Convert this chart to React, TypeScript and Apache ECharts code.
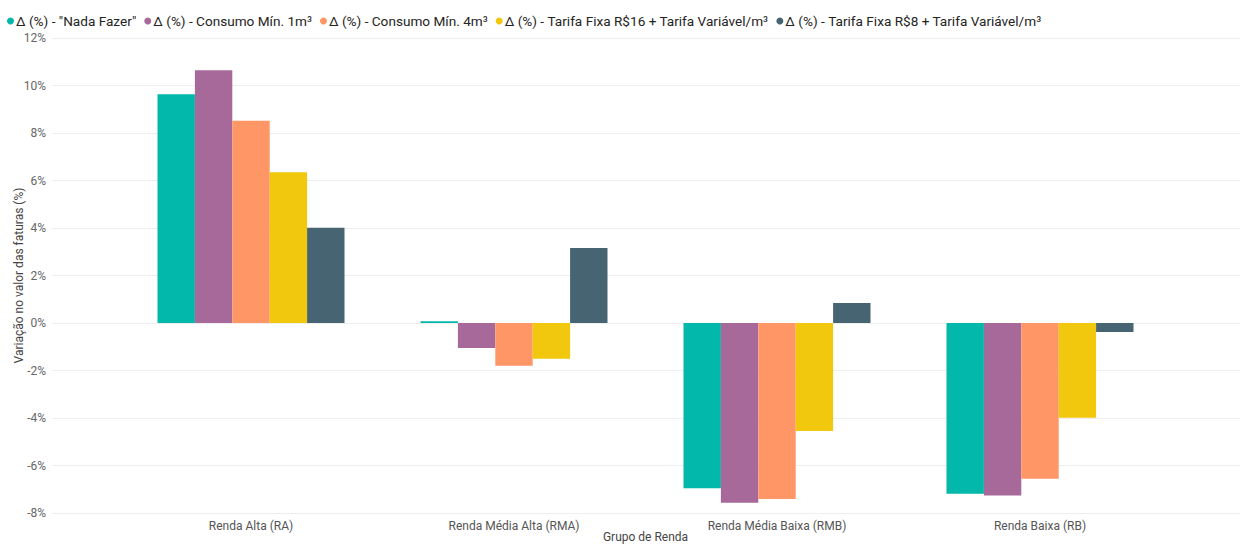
import React, { useEffect, useRef } from "react";
import * as echarts from "echarts";

const categories = ["Renda Alta (RA)", "Renda Média Alta (RMA)", "Renda Média Baixa (RMB)", "Renda Baixa (RB)"];
const seriesNames = [
  'Δ (%) - "Nada Fazer"',
  "Δ (%) - Consumo Mín. 1m³",
  "Δ (%) - Consumo Mín. 4m³",
  "Δ (%) - Tarifa Fixa R$16 + Tarifa Variável/m³",
  "Δ (%) - Tarifa Fixa R$8 + Tarifa Variável/m³",
];
const nadaFazer = [9.63, 0.07, -6.96, -7.19];
const consumo1 = [10.64, -1.05, -7.57, -7.26];
const consumo4 = [8.52, -1.8, -7.41, -6.56];
const tarifa16 = [6.35, -1.51, -4.55, -3.99];
const tarifa8 = [4.01, 3.16, 0.84, -0.38];
const seriesValues = [nadaFazer, consumo1, consumo4, tarifa16, tarifa8];
const colors = ["#01B8AA", "#A66999", "#FE9666", "#F2C80F", "#466471"];
const yMin = -8;
const yMax = 12;
const yInterval = 2;

export default function App() {
  const ref = useRef<HTMLDivElement>(null);
  useEffect(() => {
    document.body.style.margin = "0";
    if (!ref.current) return;
    const chart = echarts.init(ref.current, undefined, { renderer: "svg" });
    const font = "Roboto, 'Noto Sans', sans-serif";
    chart.setOption({
      animation: false,
      textStyle: { fontFamily: font },
      color: colors,
      legend: {
        left: 2,
        top: 9,
        icon: "circle",
        itemWidth: 7,
        itemHeight: 7,
        itemGap: 8,
        textStyle: { fontSize: 13.6, color: "#252423", padding: [0, 0, 0, -3] },
        data: seriesNames,
      },
      grid: [
        { left: 52, right: 0, top: 38, bottom: 31, outerBoundsMode: "none", containLabel: false },
        { left: 119.5, width: 1052, top: 38, bottom: 31, outerBoundsMode: "none", containLabel: false },
      ],
      xAxis: [
        { gridIndex: 0, type: "value", show: false, min: 0, max: 1 },
        {
          gridIndex: 1,
          type: "category",
          data: categories,
          axisLine: { show: false },
          axisTick: { show: false },
          axisLabel: { fontSize: 12, color: "#555", margin: 7 },
          name: "Grupo de Renda",
          nameLocation: "middle",
          nameGap: 18,
          nameMoveOverlap: false,
          nameTextStyle: { fontSize: 12, color: "#444" },
        },
      ],
      yAxis: [
        {
          gridIndex: 0,
          type: "value",
          min: yMin,
          max: yMax,
          interval: yInterval,
          axisLine: { show: false },
          axisTick: { show: false },
          axisLabel: { formatter: "{value}%", fontSize: 12, color: "#666", margin: 6 },
          splitLine: { lineStyle: { color: "#EEEEEE", width: 1 } },
          name: "Variação no valor das faturas (%)",
          nameLocation: "middle",
          nameGap: 27,
          nameMoveOverlap: false,
          nameTextStyle: { fontSize: 12, color: "#444" },
        },
        {
          gridIndex: 1,
          type: "value",
          min: yMin,
          max: yMax,
          interval: yInterval,
          show: false,
          splitLine: { show: false },
        },
      ],
      series: seriesNames.map((name, i) => ({
        name,
        type: "bar",
        xAxisIndex: 1,
        yAxisIndex: 1,
        data: seriesValues[i],
        barWidth: 37.4,
        barGap: "0%",
        itemStyle: { color: colors[i] },
      })),
    });
    return () => chart.dispose();
  }, []);
  return <div ref={ref} style={{ width: 1240, height: 544 }} />;
}
